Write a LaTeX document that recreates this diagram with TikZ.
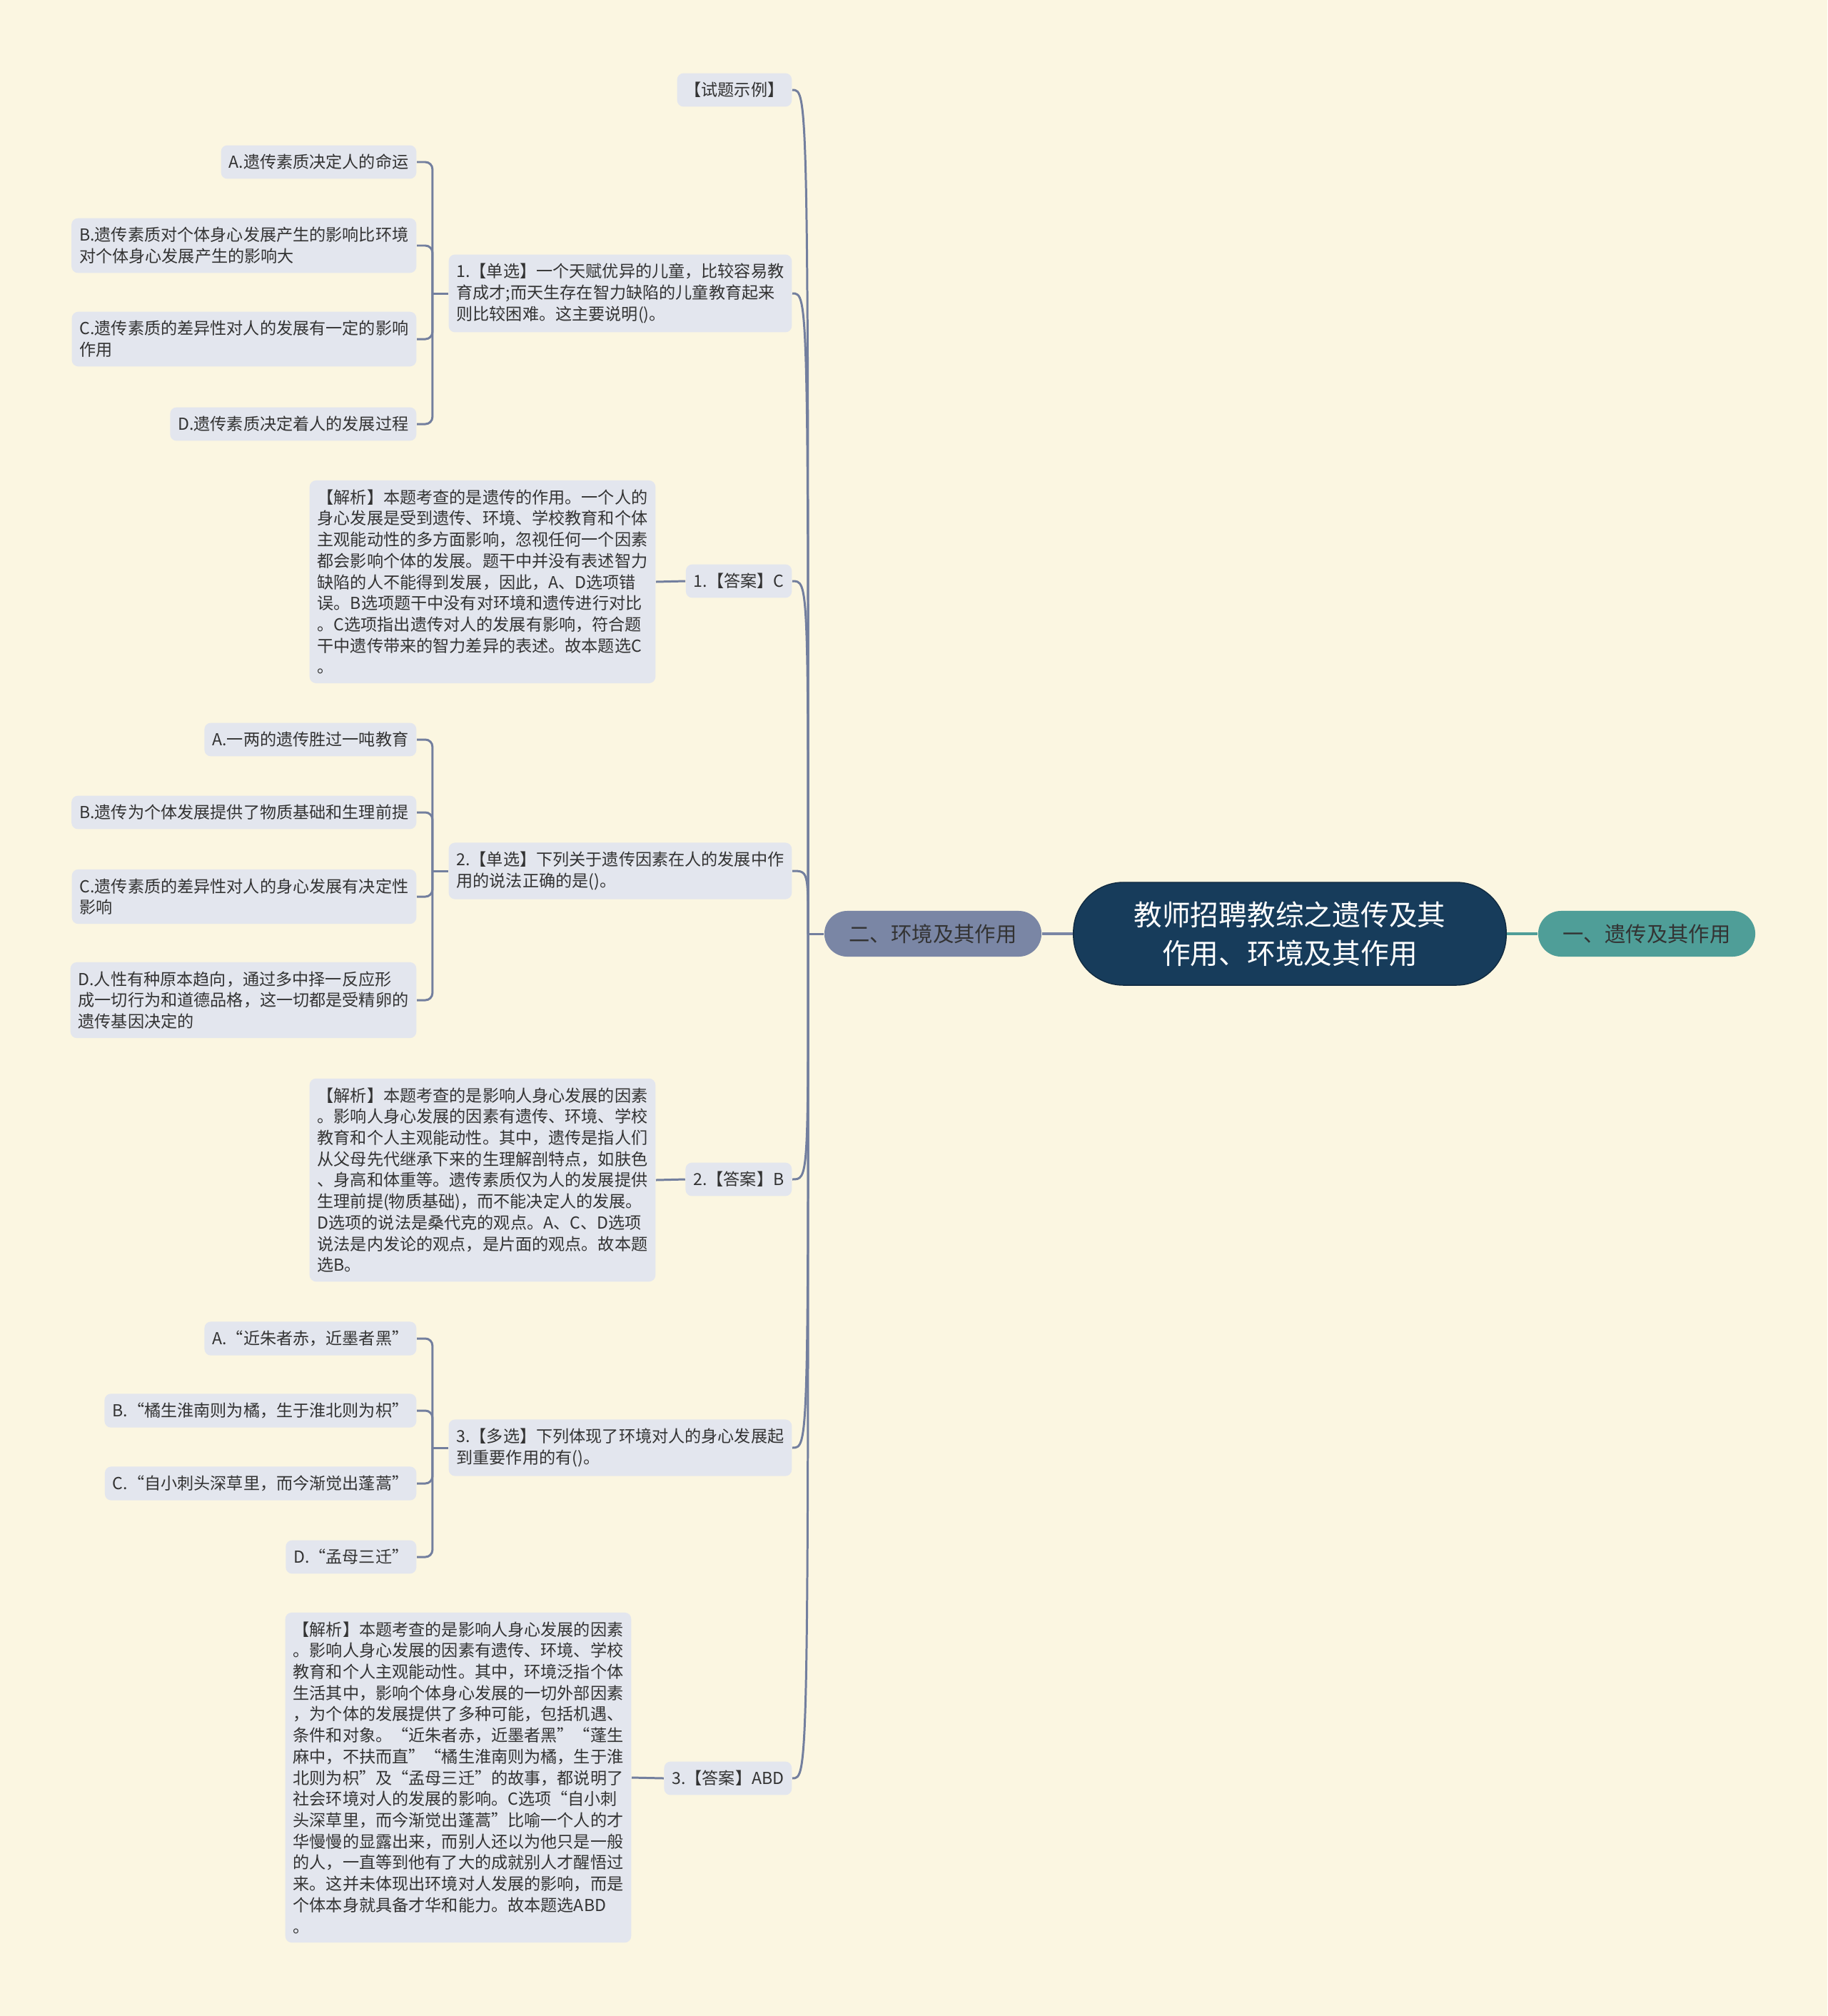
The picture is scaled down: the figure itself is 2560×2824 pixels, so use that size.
\documentclass[tikz,border=0pt]{standalone}
\usepackage{fontspec}
\setmainfont{Noto Sans CJK SC}

\definecolor{bgcream}{HTML}{FBF6E1}
\definecolor{rootblue}{HTML}{173C5B}
\definecolor{tealbr}{HTML}{4F9E98}
\definecolor{slatebr}{HTML}{7A86A5}
\definecolor{leafgray}{HTML}{E3E6EE}
\definecolor{linkgray}{HTML}{737F9E}
\definecolor{inkdark}{HTML}{333333}

\newcommand{\rootsize}{\fontsize{11.3pt}{15.4pt}\selectfont}
\newcommand{\branchsize}{\fontsize{8.35pt}{10pt}\selectfont}
\newcommand{\leafsize}{\fontsize{6.58pt}{8.45pt}\selectfont}

\begin{document}
\begin{tikzpicture}[
    x=0.01cm, y=-0.01cm,
    every node/.style={align=left},
    rootnode/.style={
        fill=rootblue,
        draw=rootblue!70!black,
        rounded corners=0.7cm,
        minimum width=6.06cm,
        minimum height=1.44cm,
        text=white,
        font=\rootsize,
        align=center
    },
    branchnode/.style={
        rounded corners=0.32cm,
        minimum width=3.04cm,
        minimum height=0.64cm,
        font=\branchsize,
        text=inkdark
    },
    leaf/.style={
        fill=leafgray,
        rounded corners=0.09cm,
        font=\leafsize,
        text=inkdark,
        inner xsep=3.1pt,
        inner ysep=3.6pt,
        anchor=east
    },
    link/.style={draw=linkgray, line width=0.85pt}
]
\fill[bgcream] (0,0) rectangle (2560,2824);
\useasboundingbox (0,0) rectangle (2560,2824);

% centre and the two main branches
\node[rootnode] (root) at (1807,1308) {教师招聘教综之遗传及其\\作用、环境及其作用};
\node[branchnode, fill=tealbr] (heredity) at (2307,1308) {一、遗传及其作用};
\node[branchnode, fill=slatebr] (environ) at (1307,1308) {二、环境及其作用};

% questions and answers
\node[leaf] (example) at (1110,126) {【试题示例】};
\node[leaf] (q1) at (1110,411) {1.【单选】一个天赋优异的儿童，比较容易教\\育成才;而天生存在智力缺陷的儿童教育起来\\则比较困难。这主要说明()。};
\node[leaf] (ans1) at (1110,814) {1.【答案】C};
\node[leaf] (q2) at (1110,1220) {2.【单选】下列关于遗传因素在人的发展中作\\用的说法正确的是()。};
\node[leaf] (ans2) at (1110,1652) {2.【答案】B};
\node[leaf] (q3) at (1110,2028) {3.【多选】下列体现了环境对人的身心发展起\\到重要作用的有()。};
\node[leaf] (ans3) at (1110,2491) {3.【答案】ABD};

% options of question 1
\node[leaf] (q1a) at (584,227) {A.遗传素质决定人的命运};
\node[leaf] (q1b) at (584,344) {B.遗传素质对个体身心发展产生的影响比环境\\对个体身心发展产生的影响大};
\node[leaf] (q1c) at (584,475) {C.遗传素质的差异性对人的发展有一定的影响\\作用};
\node[leaf] (q1d) at (584,594) {D.遗传素质决定着人的发展过程};
\node[leaf] (exp1) at (919,815) {【解析】本题考查的是遗传的作用。一个人的\\身心发展是受到遗传、环境、学校教育和个体\\主观能动性的多方面影响，忽视任何一个因素\\都会影响个体的发展。题干中并没有表述智力\\缺陷的人不能得到发展，因此，A、D选项错\\误。B选项题干中没有对环境和遗传进行对比\\。C选项指出遗传对人的发展有影响，符合题\\干中遗传带来的智力差异的表述。故本题选C\\。};

% options of question 2
\node[leaf] (q2a) at (584,1036) {A.一两的遗传胜过一吨教育};
\node[leaf] (q2b) at (584,1138) {B.遗传为个体发展提供了物质基础和生理前提};
\node[leaf] (q2c) at (584,1256) {C.遗传素质的差异性对人的身心发展有决定性\\影响};
\node[leaf] (q2d) at (584,1401) {D.人性有种原本趋向，通过多中择一反应形\\成一切行为和道德品格，这一切都是受精卵的\\遗传基因决定的};
\node[leaf] (exp2) at (919,1653) {【解析】本题考查的是影响人身心发展的因素\\。影响人身心发展的因素有遗传、环境、学校\\教育和个人主观能动性。其中，遗传是指人们\\从父母先代继承下来的生理解剖特点，如肤色\\、身高和体重等。遗传素质仅为人的发展提供\\生理前提(物质基础)，而不能决定人的发展。\\D选项的说法是桑代克的观点。A、C、D选项\\说法是内发论的观点，是片面的观点。故本题\\选B。};

% options of question 3
\node[leaf] (q3a) at (584,1875) {A.“近朱者赤，近墨者黑”};
\node[leaf] (q3b) at (584,1976) {B.“橘生淮南则为橘，生于淮北则为枳”};
\node[leaf] (q3c) at (584,2078) {C.“自小刺头深草里，而今渐觉出蓬蒿”};
\node[leaf] (q3d) at (584,2181) {D.“孟母三迁”};
\node[leaf] (exp3) at (885,2490) {【解析】本题考查的是影响人身心发展的因素\\。影响人身心发展的因素有遗传、环境、学校\\教育和个人主观能动性。其中，环境泛指个体\\生活其中，影响个体身心发展的一切外部因素\\，为个体的发展提供了多种可能，包括机遇、\\条件和对象。“近朱者赤，近墨者黑”“蓬生\\麻中，不扶而直”“橘生淮南则为橘，生于淮\\北则为枳”及“孟母三迁”的故事，都说明了\\社会环境对人的发展的影响。C选项“自小刺\\头深草里，而今渐觉出蓬蒿”比喻一个人的才\\华慢慢的显露出来，而别人还以为他只是一般\\的人，一直等到他有了大的成就别人才醒悟过\\来。这并未体现出环境对人发展的影响，而是\\个体本身就具备才华和能力。故本题选ABD\\。};

% main connectors
\draw[draw=tealbr, line width=1.1pt] (root.east) -- (heredity.west);
\draw[draw=slatebr, line width=1.1pt] (root.west) -- (environ.east);

% curved trunk of the left branch
\draw[link] (environ.west) -- ++(-22,0) coordinate (trunk);
\draw[link] (trunk) .. controls (trunk |- example.east) .. (example.east);
\draw[link] (trunk) .. controls (trunk |- q1.east) .. (q1.east);
\draw[link] (trunk) .. controls (trunk |- ans1.east) .. (ans1.east);
\draw[link] (trunk) .. controls (trunk |- q2.east) .. (q2.east);
\draw[link] (trunk) .. controls (trunk |- ans2.east) .. (ans2.east);
\draw[link] (trunk) .. controls (trunk |- q3.east) .. (q3.east);
\draw[link] (trunk) .. controls (trunk |- ans3.east) .. (ans3.east);

% brackets to the options
\draw[link] (q1.west) -- ++(-22,0) coordinate (q1fork);
\draw[link, rounded corners=0.1cm] (q1fork) |- (q1a.east);
\draw[link, rounded corners=0.1cm] (q1fork) |- (q1b.east);
\draw[link, rounded corners=0.1cm] (q1fork) |- (q1c.east);
\draw[link, rounded corners=0.1cm] (q1fork) |- (q1d.east);

\draw[link] (q2.west) -- ++(-22,0) coordinate (q2fork);
\draw[link, rounded corners=0.1cm] (q2fork) |- (q2a.east);
\draw[link, rounded corners=0.1cm] (q2fork) |- (q2b.east);
\draw[link, rounded corners=0.1cm] (q2fork) |- (q2c.east);
\draw[link, rounded corners=0.1cm] (q2fork) |- (q2d.east);

\draw[link] (q3.west) -- ++(-22,0) coordinate (q3fork);
\draw[link, rounded corners=0.1cm] (q3fork) |- (q3a.east);
\draw[link, rounded corners=0.1cm] (q3fork) |- (q3b.east);
\draw[link, rounded corners=0.1cm] (q3fork) |- (q3c.east);
\draw[link, rounded corners=0.1cm] (q3fork) |- (q3d.east);

% answers to their analyses
\draw[link] (ans1.west) -- (exp1.east);
\draw[link] (ans2.west) -- (exp2.east);
\draw[link] (ans3.west) -- (exp3.east);
\end{tikzpicture}
\end{document}
